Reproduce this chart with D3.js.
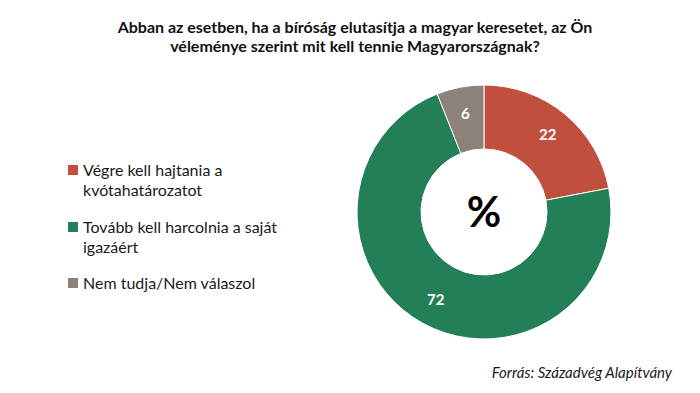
<!DOCTYPE html>
<html lang="hu">
<head>
<meta charset="UTF-8">
<title>Donut</title>
<style>
  body { margin: 0; background: #fff; }
  svg { display: block; font-family: Lato, "Open Sans", sans-serif; }
</style>
</head>
<body>
<svg width="700" height="393"></svg>
<script src="https://d3js.org/d3.v7.min.js"></script>
<script>
const categories = ["Végre kell hajtania a kvótahatározatot", "Tovább kell harcolnia a saját igazáért", "Nem tudja/Nem válaszol"];
const legendLines = [["Végre kell hajtania a", "kvótahatározatot"], ["Tovább kell harcolnia a saját", "igazáért"], ["Nem tudja/Nem válaszol"]];
const values = [22, 72, 6];
const colors = ["#c0503d", "#237f57", "#8c8279"];
const titleLines = ["Abban az esetben, ha a bíróság elutasítja a magyar keresetet, az Ön", "véleménye szerint mit kell tennie Magyarországnak?"];
const source = "Forrás: Századvég Alapítvány";

const svg = d3.select("svg");

// title
svg.append("g").selectAll("text")
  .data(titleLines).join("text")
  .attr("x", 355).attr("y", (d, i) => 33 + i * 19)
  .attr("text-anchor", "middle")
  .attr("font-size", 16).attr("font-weight", "bold").attr("fill", "#111")
  .text(d => d);

// donut
const cx = 484, cy = 212;
const pie = d3.pie().sort(null).value(d => d);
const arc = d3.arc().innerRadius(63).outerRadius(127);
const g = svg.append("g").attr("transform", `translate(${cx},${cy})`);
const arcs = pie(values);
g.selectAll("path").data(arcs).join("path")
  .attr("d", arc)
  .attr("fill", (d, i) => colors[i])
  .attr("stroke", "#fff").attr("stroke-width", 1);

// labels sit a bit further out than the centroid, as in Excel
const labelArc = d3.arc().innerRadius(100).outerRadius(100);
g.selectAll("text.lbl").data(arcs).join("text")
  .attr("class", "lbl")
  .attr("transform", d => `translate(${labelArc.centroid(d)})`)
  .attr("text-anchor", "middle").attr("dy", "0.35em")
  .attr("font-size", 15).attr("font-weight", "bold").attr("fill", "#fff")
  .text(d => d.data);

g.append("text")
  .attr("text-anchor", "middle").attr("dy", "0.35em")
  .attr("font-size", 42).attr("font-weight", "bold").attr("fill", "#000")
  .text("%");

// legend
const legY = [170, 227, 283];
const leg = svg.append("g").selectAll("g")
  .data(categories).join("g")
  .attr("transform", (d, i) => `translate(68,${legY[i]})`);
leg.append("rect")
  .attr("x", 0).attr("y", -5).attr("width", 10).attr("height", 10)
  .attr("fill", (d, i) => colors[i]);
leg.each(function (d, i) {
  d3.select(this).selectAll("text")
    .data(legendLines[i]).join("text")
    .attr("x", 15).attr("y", (t, j) => j * 20)
    .attr("dy", "0.35em")
    .attr("font-size", 16).attr("fill", "#1a1a1a")
    .text(t => t);
});

// source
svg.append("text")
  .attr("x", 672).attr("y", 378)
  .attr("text-anchor", "end")
  .attr("font-size", 15).attr("font-style", "italic").attr("fill", "#1a1a1a")
  .text(source);
</script>
</body>
</html>
